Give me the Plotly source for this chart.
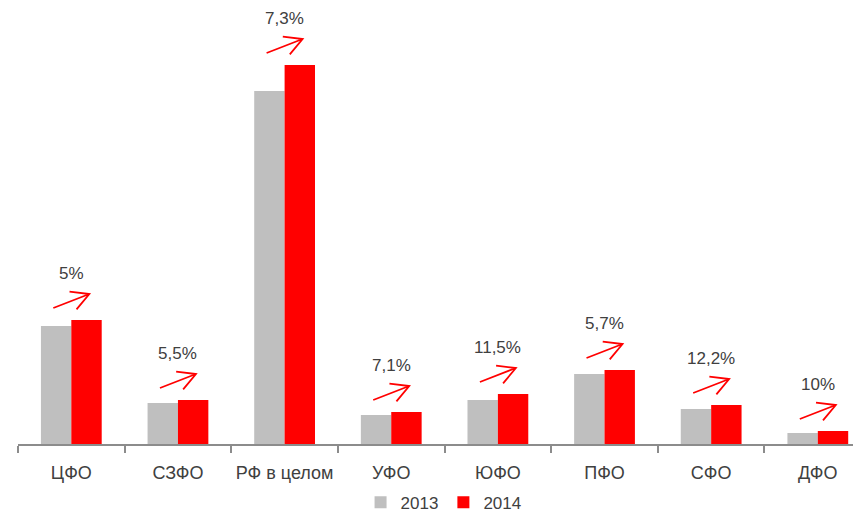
import plotly.graph_objects as go

regions = ["ЦФО", "СЗФО", "РФ в целом", "УФО", "ЮФО", "ПФО", "СФО", "ДФО"]
values_2013 = [118, 41, 353, 29, 44, 70, 35, 11]
values_2014 = [124, 44, 379, 32, 50, 74, 39, 13]
growth_labels = ["5%", "5,5%", "7,3%", "7,1%", "11,5%", "5,7%", "12,2%", "10%"]

FONT = "Liberation Sans, Arial"
TEXT_COLOR = "#404040"

fig = go.Figure()

fig.add_trace(
    go.Bar(
        x=regions,
        y=values_2013,
        name="2013",
        marker=dict(color="#bfbfbf", line=dict(width=0)),
    )
)

fig.add_trace(
    go.Bar(
        x=regions,
        y=values_2014,
        name="2014",
        marker=dict(color="#ff0000", line=dict(width=0)),
    )
)

# стрелки роста (в пикселях относительно вершины красного столбца)
lift = 19
arrow_path = (
    f"M-18,{lift - 7} L18,{lift + 7} "
    f"M-1.8,{lift + 9.3} L18,{lift + 7} L5.2,{lift - 8.3}"
)

for i, (val, label) in enumerate(zip(values_2014, growth_labels)):
    fig.add_shape(
        type="path",
        xref="x",
        yref="y",
        xsizemode="pixel",
        ysizemode="pixel",
        xanchor=i,
        yanchor=val,
        path=arrow_path,
        line=dict(color="#ff0000", width=1.8),
    )
    fig.add_annotation(
        x=i,
        y=val,
        text=label,
        showarrow=False,
        yshift=47,
        xanchor="center",
        yanchor="middle",
        font=dict(family=FONT, size=17, color=TEXT_COLOR),
    )

fig.update_layout(
    width=853,
    height=512,
    margin=dict(l=18, r=0, t=0, b=68),
    paper_bgcolor="white",
    plot_bgcolor="white",
    barmode="group",
    bargap=0.43,
    bargroupgap=0,
    font=dict(family=FONT, size=17, color=TEXT_COLOR),
    showlegend=True,
    legend=dict(
        orientation="h",
        xref="container",
        yref="container",
        x=0.52,
        y=0.018,
        xanchor="center",
        yanchor="middle",
        font=dict(family=FONT, size=17, color=TEXT_COLOR),
        itemwidth=30,
        traceorder="normal",
    ),
    xaxis=dict(
        type="category",
        range=[-0.5, 7.33],
        automargin=False,
        showline=True,
        linecolor="#8c8c8c",
        linewidth=2,
        ticks="outside",
        tickson="boundaries",
        ticklen=7,
        tickwidth=2,
        tickcolor="#8c8c8c",
        tickangle=0,
        ticklabelstandoff=11,
        showgrid=False,
        tickfont=dict(family=FONT, size=18, color=TEXT_COLOR),
    ),
    yaxis=dict(
        visible=False,
        range=[0, 444],
        showgrid=False,
        zeroline=False,
    ),
)

fig.write_html(
    "out.html",
    config={"displayModeBar": False},
    post_script="document.body.style.margin='0';document.body.style.overflow='hidden';",
)
